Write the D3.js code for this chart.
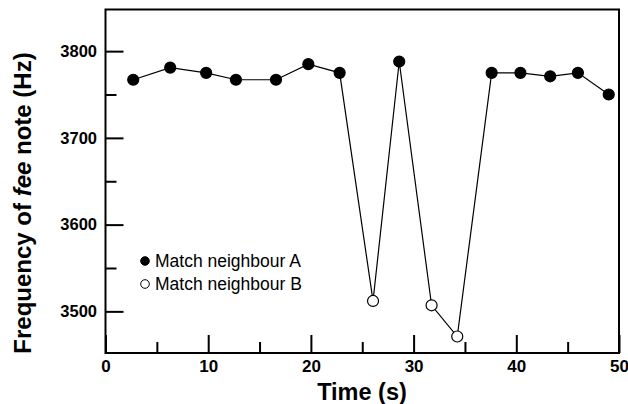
<!DOCTYPE html>
<html><head><meta charset="utf-8">
<script src="https://cdn.jsdelivr.net/npm/d3@7"></script>
<style>body{margin:0;background:#fff}svg{display:block}</style>
</head><body>
<svg id="c" width="628" height="404"></svg>
<script>
const times  = [2.7, 6.3, 9.8, 12.7, 16.6, 19.75, 22.8, 26.05, 28.6, 31.75, 34.25, 37.6, 40.4, 43.3, 46.0, 49.0];
const freqs  = [3767, 3781, 3775, 3767, 3767, 3785, 3775, 3512, 3788, 3507, 3471, 3775, 3775, 3771, 3775, 3750];
const groups = ["A","A","A","A","A","A","A","B","A","B","B","A","A","A","A","A"];
const xTicks = [0, 10, 20, 30, 40, 50];
const xMinor = [5, 15, 25, 35, 45];
const yTicks = [3500, 3600, 3700, 3800];
const yMinor = [3550, 3650, 3750];
const legendLabels = ["Match neighbour A", "Match neighbour B"];

const svg = d3.select("#c");
const L = 105.5, R = 619, T = 9.5, B = 353;
const x = d3.scaleLinear().domain([0, 50]).range([L, R]);
const y = d3.scaleLinear().domain([3452, 3848]).range([B, T]);
const font = "Liberation Sans, Arial, Helvetica, sans-serif";

// frame
svg.append("rect").attr("x", L).attr("y", T).attr("width", R - L).attr("height", B - T)
  .attr("fill", "none").attr("stroke", "#000").attr("stroke-width", 2);

// axes
const xAxis = d3.axisBottom(x).tickValues(xTicks).tickSize(-18).tickPadding(0).tickFormat(d3.format("d"));
const gx = svg.append("g").attr("transform", `translate(0,${B})`).call(xAxis);
gx.select(".domain").remove();
gx.selectAll(".tick line").attr("stroke", "#000").attr("stroke-width", 2);
gx.selectAll(".tick text").attr("font-family", font).attr("font-size", 17).attr("font-weight", "bold")
  .attr("fill", "#000").attr("y", 19).attr("dy", null);
const gxm = svg.append("g").attr("transform", `translate(0,${B})`).call(d3.axisBottom(x).tickValues(xMinor).tickSize(-11).tickFormat(""));
gxm.select(".domain").remove();
gxm.selectAll(".tick line").attr("stroke", "#000").attr("stroke-width", 2);

const yAxis = d3.axisLeft(y).tickValues(yTicks).tickSize(-18).tickPadding(0).tickFormat(d3.format("d"));
const gy = svg.append("g").attr("transform", `translate(${L},0)`).call(yAxis);
gy.select(".domain").remove();
gy.selectAll(".tick line").attr("stroke", "#000").attr("stroke-width", 2);
gy.selectAll(".tick text").attr("font-family", font).attr("font-size", 16.5).attr("font-weight", "bold")
  .attr("fill", "#000").attr("x", -8.5);
const gym = svg.append("g").attr("transform", `translate(${L},0)`).call(d3.axisLeft(y).tickValues(yMinor).tickSize(-11).tickFormat(""));
gym.select(".domain").remove();
gym.selectAll(".tick line").attr("stroke", "#000").attr("stroke-width", 2);

// titles
svg.append("text").attr("x", 362).attr("y", 400).attr("text-anchor", "middle")
  .attr("font-family", font).attr("font-size", 23.5).attr("font-weight", "bold").text("Time (s)");
const yt = svg.append("text").attr("transform", "translate(31,203) rotate(-90)").attr("text-anchor", "middle")
  .attr("font-family", font).attr("font-size", 24).attr("font-weight", "bold");
yt.append("tspan").text("Frequency of ");
yt.append("tspan").attr("font-style", "italic").text("fee");
yt.append("tspan").text(" note (Hz)");

// line
const pts = times.map((t, i) => ({t, f: freqs[i], g: groups[i]}));
svg.append("path").datum(pts)
  .attr("d", d3.line().x(d => x(d.t)).y(d => y(d.f)))
  .attr("fill", "none").attr("stroke", "#000").attr("stroke-width", 1.2);
svg.selectAll("circle.pt").data(pts).join("circle").attr("class", "pt")
  .attr("cx", d => x(d.t)).attr("cy", d => y(d.f)).attr("r", 5.5)
  .attr("fill", d => d.g === "A" ? "#000" : "#fff").attr("stroke", "#000").attr("stroke-width", 1.2);

// legend
const lg = svg.append("g");
legendLabels.forEach((lab, i) => {
  const cy = 261 + i * 23;
  lg.append("circle").attr("cx", 145).attr("cy", cy).attr("r", 4.3)
    .attr("fill", i === 0 ? "#000" : "#fff").attr("stroke", "#000").attr("stroke-width", 1);
  lg.append("text").attr("x", 155).attr("y", cy).attr("dy", "0.36em")
    .attr("font-family", font).attr("font-size", 17.5).text(lab);
});
</script>
</body></html>
